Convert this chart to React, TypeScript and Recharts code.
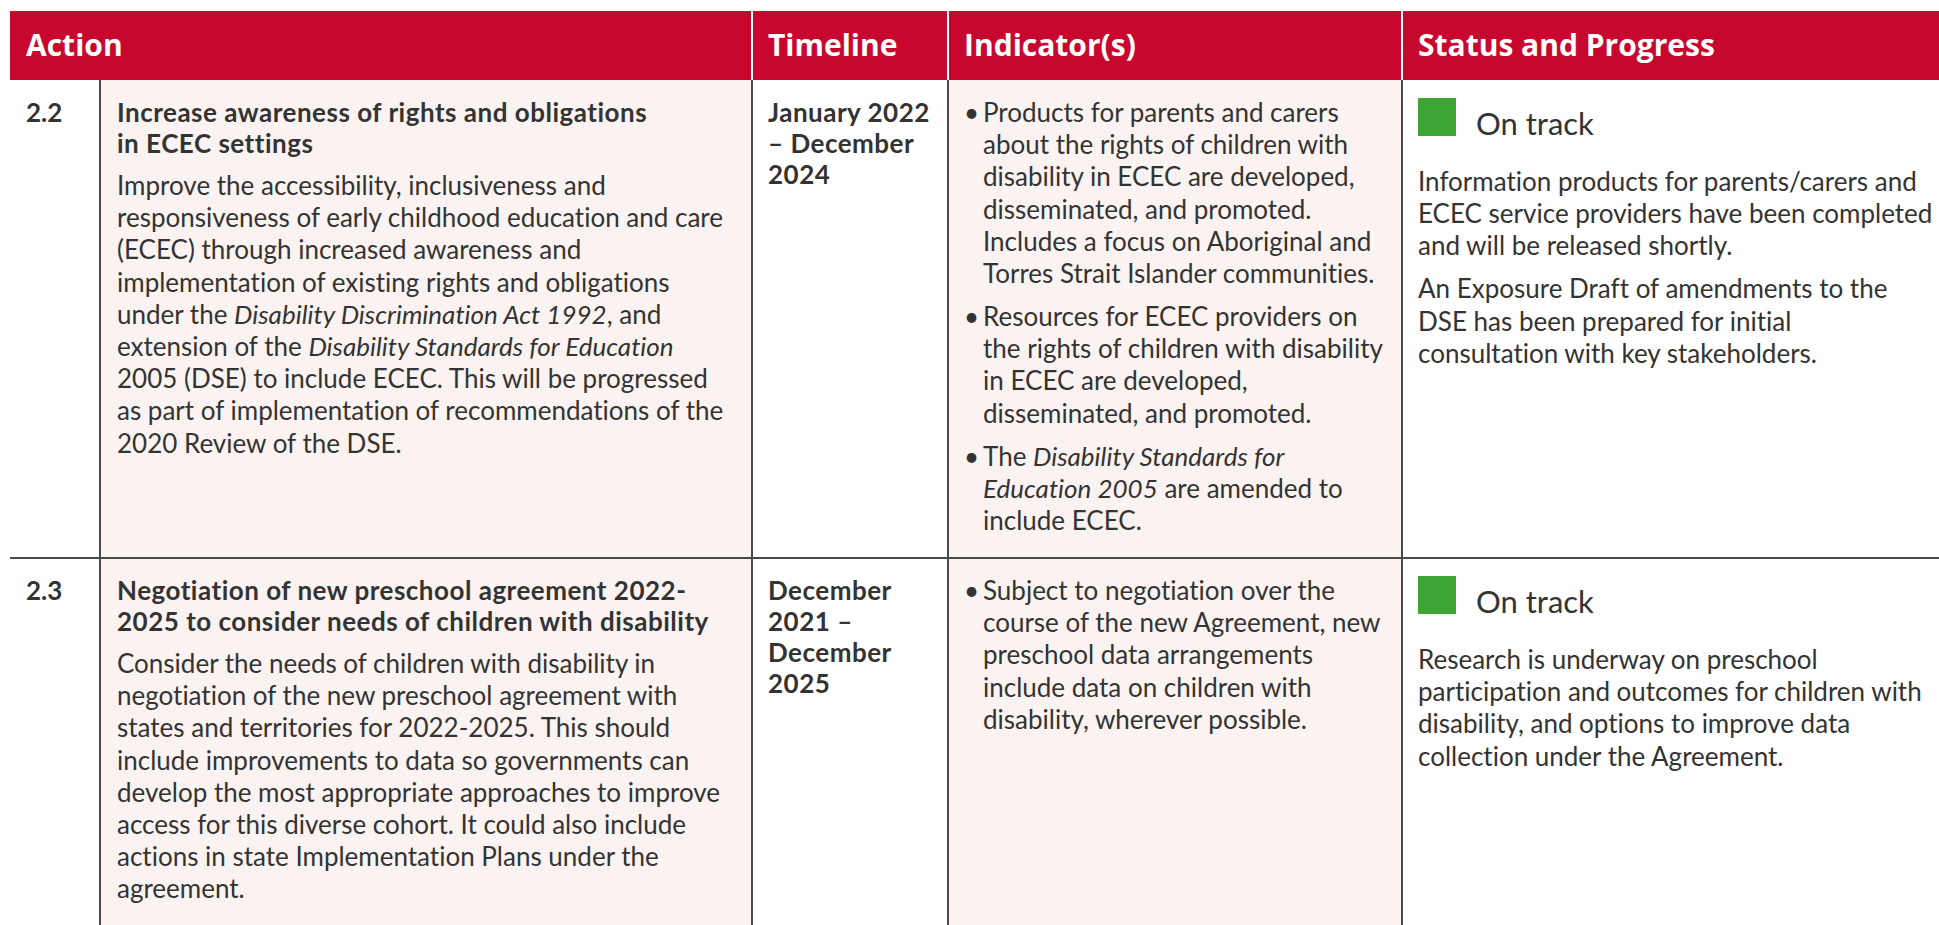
import React from 'react';
import { Surface, Layer, Rectangle } from 'recharts';

const W = 1939;
const H = 925;

const headers = ['Action', 'Timeline', 'Indicator(s)', 'Status and Progress'];
const actionIds = ['2.2', '2.3'];
const actionTitles = [
  ['Increase awareness of rights and obligations', 'in ECEC settings'],
  ['Negotiation of new preschool agreement 2022-', '2025 to consider needs of children with disability'],
];
const actionBodies = [
  [
    'Improve the accessibility, inclusiveness and',
    'responsiveness of early childhood education and care',
    '(ECEC) through increased awareness and',
    'implementation of existing rights and obligations',
    'under the *Disability Discrimination Act 1992*, and',
    'extension of the *Disability Standards for Education*',
    '2005 (DSE) to include ECEC. This will be progressed',
    'as part of implementation of recommendations of the',
    '2020 Review of the DSE.',
  ],
  [
    'Consider the needs of children with disability in',
    'negotiation of the new preschool agreement with',
    'states and territories for 2022-2025. This should',
    'include improvements to data so governments can',
    'develop the most appropriate approaches to improve',
    'access for this diverse cohort. It could also include',
    'actions in state Implementation Plans under the',
    'agreement.',
  ],
];
const timelines = [
  ['January 2022', '– December', '2024'],
  ['December', '2021 –', 'December', '2025'],
];
const indicators = [
  [
    [
      'Products for parents and carers',
      'about the rights of children with',
      'disability in ECEC are developed,',
      'disseminated, and promoted.',
      'Includes a focus on Aboriginal and',
      'Torres Strait Islander communities.',
    ],
    [
      'Resources for ECEC providers on',
      'the rights of children with disability',
      'in ECEC are developed,',
      'disseminated, and promoted.',
    ],
    ['The *Disability Standards for*', '*Education 2005* are amended to', 'include ECEC.'],
  ],
  [
    [
      'Subject to negotiation over the',
      'course of the new Agreement, new',
      'preschool data arrangements',
      'include data on children with',
      'disability, wherever possible.',
    ],
  ],
];
const statuses = ['On track', 'On track'];
const progress = [
  [
    [
      'Information products for parents/carers and',
      'ECEC service providers have been completed',
      'and will be released shortly.',
    ],
    ['An Exposure Draft of amendments to the', 'DSE has been prepared for initial', 'consultation with key stakeholders.'],
  ],
  [
    [
      'Research is underway on preschool',
      'participation and outcomes for children with',
      'disability, and options to improve data',
      'collection under the Agreement.',
    ],
  ],
];

const RED = '#C8072F';
const PINK = '#FBF3F2';
const TEXT = '#333333';
const LINE = '#4A4A4A';
const GREEN = '#3EA535';
const BODY_FONT = 'Lato, "Noto Sans", sans-serif';
const HEAD_FONT = '"Open Sans", Lato, sans-serif';
const FS = 26;
const LH = 32.2;
const PARA = 43;

const X0 = 10;
const XNUM = 100;
const XTIME = 752;
const XIND = 948;
const XSTAT = 1402;
const HEAD_TOP = 11;
const HEAD_BOT = 80;
const ROW_TOPS = [80, 558];
const ROW_BOTS = [558, 940];
const colLefts = [X0, XTIME, XIND, XSTAT];

function rich(line: string) {
  const parts = line.split('*');
  return parts.map((p, i) => (
    <tspan key={i} fontStyle={i % 2 === 1 ? 'italic' : 'normal'}>
      {p}
    </tspan>
  ));
}

function Lines({ x, y, lines, lh = LH, bold = false, size = FS }: any) {
  return (
    <g>
      {lines.map((l: string, i: number) => (
        <text
          key={i}
          x={x}
          y={y + i * lh}
          fontFamily={BODY_FONT}
          fontSize={size}
          fontWeight={bold ? 700 : 400}
          letterSpacing={bold ? 0.5 : 0}
          fill={TEXT}
        >
          {rich(l)}
        </text>
      ))}
    </g>
  );
}

export default function App() {
  return (
    <div style={{ position: 'absolute', left: 0, top: 0, width: W, height: H, background: '#fff' }}>
      <Surface width={W} height={H} style={{ fontVariantLigatures: 'none', fontFeatureSettings: '"liga" 0, "clig" 0' }}>
        {ROW_TOPS.map((top, r) => (
          <Layer key={'bg' + r}>
            <Rectangle x={XNUM} y={top} width={XTIME - XNUM} height={ROW_BOTS[r] - top} fill={PINK} />
            <Rectangle x={XIND} y={top} width={XSTAT - XIND} height={ROW_BOTS[r] - top} fill={PINK} />
          </Layer>
        ))}
        <Rectangle x={X0} y={HEAD_TOP} width={W - X0} height={HEAD_BOT - HEAD_TOP} fill={RED} />
        {[XTIME, XIND, XSTAT].map((x) => (
          <line key={'hs' + x} x1={x} x2={x} y1={HEAD_TOP} y2={HEAD_BOT} stroke="#ffffff" strokeWidth={2} />
        ))}
        {headers.map((h, i) => (
          <text
            key={h}
            x={colLefts[i] + 16}
            y={56}
            fontFamily={HEAD_FONT}
            fontSize={30}
            fontWeight={700}
            fill="#ffffff"
          >
            {h}
          </text>
        ))}
        {[XNUM, XTIME, XIND, XSTAT].map((x) => (
          <line key={'v' + x} x1={x} x2={x} y1={HEAD_BOT} y2={H} stroke={LINE} strokeWidth={2} />
        ))}
        {ROW_BOTS.slice(0, 1).map((y) => (
          <line key={'h' + y} x1={X0} x2={W} y1={y} y2={y} stroke={LINE} strokeWidth={2} />
        ))}
        {ROW_TOPS.map((top, r) => {
          const b0 = top + 42;
          const titleLast = b0 + (actionTitles[r].length - 1) * 31;
          const bodyStart = titleLast + 42;
          let indY = b0;
          const indEls: any[] = [];
          indicators[r].forEach((item, k) => {
            indEls.push(
              <g key={'ind' + k}>
                <text x={XIND + 16} y={indY} fontFamily={BODY_FONT} fontSize={FS} fill={TEXT}>
                  •
                </text>
                <Lines x={XIND + 35} y={indY} lines={item} />
              </g>
            );
            indY += (item.length - 1) * LH + PARA;
          });
          let pY = top + 111;
          const progEls: any[] = [];
          progress[r].forEach((para, k) => {
            progEls.push(<Lines key={'p' + k} x={XSTAT + 16} y={pY} lines={para} />);
            pY += (para.length - 1) * LH + PARA;
          });
          return (
            <Layer key={'row' + r}>
              <text x={X0 + 16} y={b0} fontFamily={BODY_FONT} fontSize={FS} fontWeight={700} fill={TEXT}>
                {actionIds[r]}
              </text>
              <Lines x={XNUM + 17} y={b0} lines={actionTitles[r]} lh={31} bold />
              <Lines x={XNUM + 17} y={bodyStart} lines={actionBodies[r]} />
              <Lines x={XTIME + 16} y={b0} lines={timelines[r]} lh={31} bold />
              {indEls}
              <Rectangle x={XSTAT + 16} y={top + 18} width={38} height={38} fill={GREEN} />
              <text x={XSTAT + 74} y={top + 55} fontFamily={BODY_FONT} fontSize={31} fill={TEXT}>
                {statuses[r]}
              </text>
              {progEls}
            </Layer>
          );
        })}
      </Surface>
    </div>
  );
}
